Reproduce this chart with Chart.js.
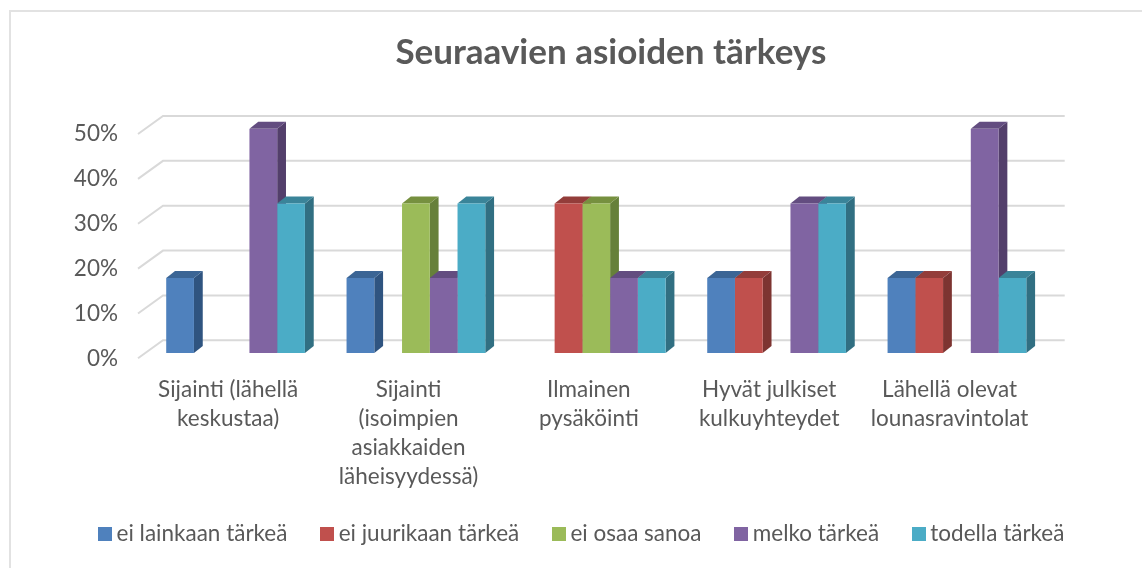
<!DOCTYPE html>
<html><head><meta charset="utf-8">
<style>html,body{margin:0;padding:0;background:#fff;overflow:hidden}
#f{position:absolute;left:9px;top:10px;width:1140px;height:570px;border:2px solid #e2e2e2;box-sizing:border-box}
#w{position:absolute;left:0;top:0;width:1142px;height:568px}</style>
<script src="https://cdn.jsdelivr.net/npm/chart.js@4"></script></head>
<body><div id="f"></div><div id="w"><canvas id="c" width="1142" height="568"></canvas></div>
<script>
const categories=[["Sijainti (lähellä","keskustaa)"],["Sijainti","(isoimpien","asiakkaiden","läheisyydessä)"],["Ilmainen","pysäköinti"],["Hyvät julkiset","kulkuyhteydet"],["Lähellä olevat","lounasravintolat"]];
const eiLainkaan=[16.7,16.7,0,16.7,16.7];
const eiJuurikaan=[0,0,33.3,16.7,16.7];
const eiOsaa=[0,33.3,33.3,0,0];
const melko=[50,16.7,16.7,33.3,50];
const todella=[33.3,33.3,16.7,33.3,16.7];
const seriesNames=["ei lainkaan tärkeä","ei juurikaan tärkeä","ei osaa sanoa","melko tärkeä","todella tärkeä"];
const fronts=["#4f81bd","#c0504d","#9bbb59","#8064a2","#4bacc6"];
const sides=["#2f5480","#7d3431","#66803a","#533f6b","#316f82"];
const tops=["#3b6595","#933d3a","#76903f","#634d80","#3a8499"];
const yTicks=[0,10,20,30,40,50];
const DX=7.4,DY=-5.3,BX=8.8,BY=7,GX=25,GY=18;
const font="Lato, Carlito, sans-serif";
function box(col){const k=document.createElement('canvas');k.width=14;k.height=14;const x=k.getContext('2d');x.fillStyle=col;x.fillRect(0,0,14,14);return k;}
const threeD={id:'threeD',
 afterLayout(ch){ch.titleBlock.left+=91;ch.titleBlock.right+=91;ch.legend.left+=64.5;ch.legend.right+=64.5;ch.scales.x.bottom+=40;},
 beforeDatasetsDraw(ch){const c=ch.ctx,a=ch.chartArea,y=ch.scales.y;
  c.save();c.strokeStyle='#d9d9d9';c.lineWidth=2;
  y.ticks.forEach((t,i)=>{const p=y.getPixelForTick(i);c.beginPath();c.moveTo(a.left,p);c.lineTo(a.left+GX,p-GY);c.lineTo(a.right+GX,p-GY);c.stroke();});
  c.restore();
  c.save();c.translate(DX,DY);
  const n=ch.data.labels.length;
  for(let i=0;i<n;i++)ch.data.datasets.forEach((d,s)=>{
   if(!d.data[i])return;const b=ch.getDatasetMeta(s).data[i];
   const L=b.x-b.width/2,R=b.x+b.width/2,T=b.y,B=b.base;
   c.fillStyle=sides[s];c.beginPath();c.moveTo(R,T);c.lineTo(R+BX,T-BY);c.lineTo(R+BX,B-BY);c.lineTo(R,B);c.closePath();c.fill();
   c.fillStyle=tops[s];c.beginPath();c.moveTo(L,T);c.lineTo(L+BX,T-BY);c.lineTo(R+BX,T-BY);c.lineTo(R,T);c.closePath();c.fill();
  });
 },
 afterDatasetsDraw(ch){ch.ctx.restore();}
};
new Chart(document.getElementById('c'),{type:'bar',
 data:{labels:categories,datasets:[eiLainkaan,eiJuurikaan,eiOsaa,melko,todella].map((v,i)=>({label:seriesNames[i],data:v,backgroundColor:fronts[i],barPercentage:1,categoryPercentage:1/1.3}))},
 plugins:[threeD],
 options:{responsive:false,animation:false,
  layout:{padding:{left:0,right:102.3,top:0,bottom:13}},
  scales:{
   x:{grid:{display:false},border:{display:false},afterFit(s){s.height=125.2;},
      ticks:{color:'#595959',font:{family:font,size:22.5,lineHeight:1.29},maxRotation:0,autoSkip:false,padding:8.5}},
   y:{min:0,max:50,grid:{display:false},border:{display:false},afterFit(s){s.width=138;},
      afterBuildTicks(s){s.ticks=yTicks.map(v=>({value:v}));},
      ticks:{color:'#595959',font:{family:font,size:22.5},padding:12,callback:v=>v+'%'}}
  },
  plugins:{
   title:{display:true,text:'Seuraavien asioiden tärkeys',color:'#595959',font:{family:font,size:35,weight:'bold'},padding:{top:32,bottom:60}},
   legend:{position:'bottom',labels:{color:'#595959',font:{family:font,size:22.5},usePointStyle:true,pointStyleWidth:1,boxHeight:14,padding:39,
     generateLabels(ch){const l=Chart.defaults.plugins.legend.labels.generateLabels(ch);l.forEach((e,i)=>{e.pointStyle=box(fronts[i]);});return l;}}},
   tooltip:{enabled:false}
  }}});
</script></body></html>
